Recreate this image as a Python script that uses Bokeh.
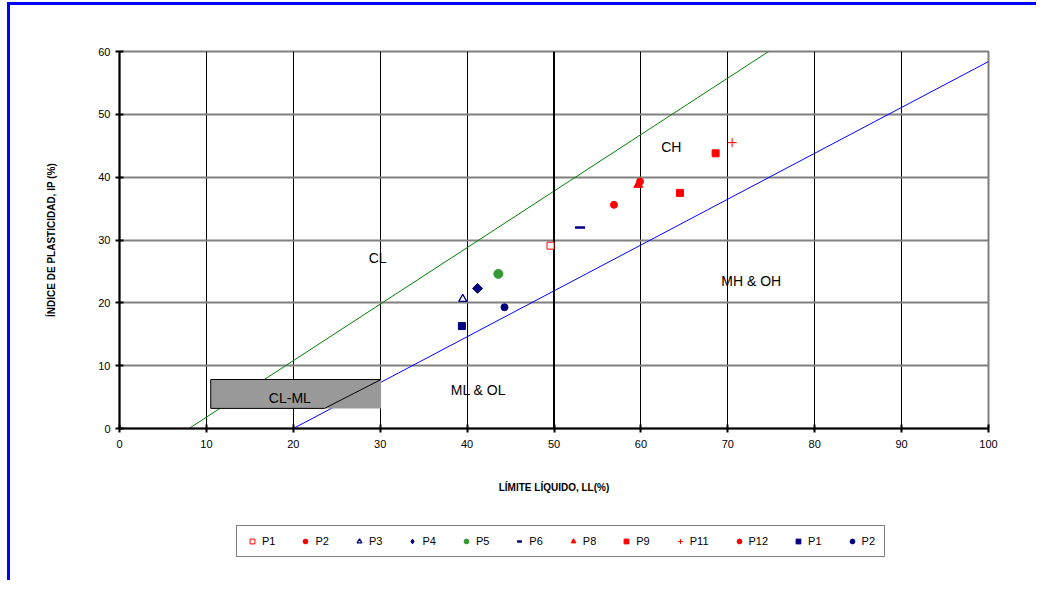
from bokeh.plotting import figure
from bokeh.layouts import column
from bokeh.models import (Range1d, FixedTicker, Legend, LegendItem)
from bokeh.core.properties import value
from bokeh.embed import file_html
from bokeh.resources import INLINE

# ---- data ----
x_ticks = [0, 10, 20, 30, 40, 50, 60, 70, 80, 90, 100]
y_ticks = [0, 10, 20, 30, 40, 50, 60]

u_line_ll = [8, 74.7]
u_line_ip = [0, 60]
a_line_ll = [20, 100]
a_line_ip = [0, 58.4]
divider_ll = [50, 50]
divider_ip = [0, 60]

clml_left, clml_right, clml_bottom, clml_top = 10.5, 30.1, 3.2, 7.8
clml_outline_ll = [30.1, 10.5, 10.5, 23.6, 30.1]
clml_outline_ip = [7.8, 7.8, 3.2, 3.2, 7.8]

zone_labels = ["CL", "CH", "MH & OH", "ML & OL", "CL-ML"]
zone_ll = [29.7, 63.5, 72.7, 41.3, 19.6]
zone_ip = [27.1, 44.8, 23.4, 6.2, 4.9]

legend_labels = ["P1", "P2", "P3", "P4", "P5", "P6", "P8", "P9", "P11", "P12", "P1", "P2"]

p1_ll, p1_ip = [49.6], [29.1]
p2_ll, p2_ip = [56.9], [35.6]
p3_ll, p3_ip = [39.5], [20.6]
p4_ll, p4_ip = [41.2], [22.3]
p5_ll, p5_ip = [43.6], [24.6]
p6_ll, p6_ip = [53.0], [32.0]
p8_ll, p8_ip = [59.7], [38.8]
p9_ll, p9_ip = [64.5, 68.6], [37.5, 43.8]
p11_ll, p11_ip = [70.5], [45.5]
p12_ll, p12_ip = [59.9], [39.3]
p1b_ll, p1b_ip = [39.4], [16.3]
p2b_ll, p2b_ip = [44.3], [19.3]

FONT = "Liberation Sans"
RED = "#FF0000"
NAVY = "#000080"
GREEN = "#339933"

series_ll = [p1_ll, p2_ll, p3_ll, p4_ll, p5_ll, p6_ll, p8_ll, p9_ll, p11_ll, p12_ll, p1b_ll, p2b_ll]
series_ip = [p1_ip, p2_ip, p3_ip, p4_ip, p5_ip, p6_ip, p8_ip, p9_ip, p11_ip, p12_ip, p1b_ip, p2b_ip]
series_style = [
    dict(marker="square", size=7, fill_color="white", line_color=RED, line_width=1),
    dict(marker="circle", size=7, fill_color=RED, line_color=RED),
    dict(marker="triangle", size=8, fill_color="white", line_color=NAVY, line_width=1.3),
    dict(marker="square", angle=0.785398, size=7, fill_color=NAVY, line_color=NAVY),
    dict(marker="circle", size=9, fill_color=GREEN, line_color=GREEN),
    dict(marker="dash", size=10, line_color=NAVY, line_width=2.5),
    dict(marker="triangle", size=9, fill_color=RED, line_color=RED),
    dict(marker="square", size=7, fill_color=RED, line_color=RED),
    dict(marker="cross", size=9, line_color=RED, line_width=1),
    dict(marker="circle", size=7, fill_color=RED, line_color=RED),
    dict(marker="square", size=7, fill_color=NAVY, line_color=NAVY),
    dict(marker="circle", size=7, fill_color=NAVY, line_color=NAVY),
]
legend_style = [dict(s) for s in series_style]
legend_style[3] = dict(marker="diamond", size=10, fill_color=NAVY, line_color=NAVY)

# ---- main chart ----
p = figure(width=1026, height=495, x_range=Range1d(0, 100), y_range=Range1d(0, 60),
           output_backend="svg", toolbar_location=None,
           min_border_left=109, min_border_right=48, min_border_top=46, min_border_bottom=72)
p.background_fill_color = "white"
p.border_fill_color = "white"
p.outline_line_color = "#808080"
p.outline_line_width = 2

p.xgrid.ticker = FixedTicker(ticks=[10, 20, 30, 40, 60, 70, 80, 90])
p.xgrid.grid_line_color = "black"
p.xgrid.grid_line_width = 1
p.ygrid.ticker = FixedTicker(ticks=[10, 20, 30, 40, 50, 60])
p.ygrid.grid_line_color = "#808080"
p.ygrid.grid_line_width = 2

for ax in (p.xaxis[0], p.yaxis[0]):
    ax.axis_line_color = "black"
    ax.axis_line_width = 2
    ax.major_tick_line_color = "black"
    ax.major_tick_line_width = 2
    ax.major_tick_in = 4
    ax.major_tick_out = 4
    ax.minor_tick_line_color = None
    ax.major_label_text_font = FONT
    ax.major_label_text_font_size = "11px"
    ax.major_label_text_color = "black"
    ax.axis_label_text_font = FONT
    ax.axis_label_text_font_size = "10px"
    ax.axis_label_text_font_style = "bold"
    ax.axis_label_text_color = "black"

p.xaxis.ticker = FixedTicker(ticks=x_ticks)
p.yaxis.ticker = FixedTicker(ticks=y_ticks)
p.xaxis.axis_label = "LÍMITE LÍQUIDO, LL(%)"
p.yaxis.axis_label = "ÍNDICE DE PLASTICIDAD, IP (%)"
p.xaxis.major_label_standoff = 7
p.xaxis.axis_label_standoff = 31
p.yaxis.major_label_standoff = 5
p.yaxis.axis_label_standoff = 38

p.line(u_line_ll, u_line_ip, line_color="#008000", line_width=1)
p.line(a_line_ll, a_line_ip, line_color="#0000FF", line_width=1)
p.line(divider_ll, divider_ip, line_color="black", line_width=2)

p.quad(left=[clml_left], right=[clml_right], bottom=[clml_bottom], top=[clml_top],
       fill_color="#999999", line_color=None)
p.line(clml_outline_ll, clml_outline_ip, line_color="black", line_width=1)

p.text(x=zone_ll, y=zone_ip, text=zone_labels, text_font=value(FONT),
       text_font_size="14px", text_align="center", text_baseline="middle", text_color="black")

for xs, ys, st in zip(series_ll, series_ip, series_style):
    p.scatter(xs, ys, **st)

# ---- legend strip below (same series, drawn outside its tiny view so only the key shows) ----
lg = figure(width=1026, height=80, x_range=Range1d(0, 1), y_range=Range1d(0, 1),
            output_backend="svg", toolbar_location=None,
            x_axis_location=None, y_axis_location=None,
            min_border_left=0, min_border_right=0, min_border_top=0, min_border_bottom=0)
lg.xgrid.visible = False
lg.ygrid.visible = False
lg.outline_line_color = None
lg.background_fill_color = "white"
lg.border_fill_color = "white"

items = []
for lab, xs, ys, st in zip(legend_labels, series_ll, series_ip, legend_style):
    r = lg.scatter(xs, ys, **st)
    items.append(LegendItem(label=lab, renderers=[r]))

legend = Legend(items=items, orientation="horizontal", location=(117, 23),
                label_text_font=FONT, label_text_font_size="11px", label_text_color="black",
                glyph_width=12, glyph_height=12, label_standoff=4, spacing=24,
                padding=9, margin=0, border_line_color="black", border_line_width=1,
                label_height=12, label_width=10)
lg.add_layout(legend, "center")

page = column(p, lg, spacing=0)
page.styles = {"border-left": "3px solid #0000FF", "border-top": "3px solid #0000FF",
               "margin-left": "7px", "margin-top": "2px"}

open("out.html", "w").write(file_html(page, INLINE))
